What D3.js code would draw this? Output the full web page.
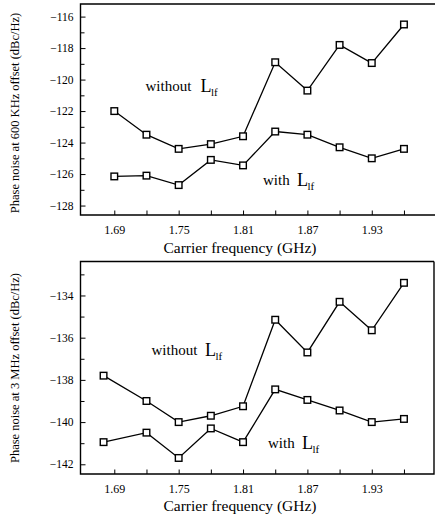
<!DOCTYPE html>
<html><head><meta charset="utf-8">
<script src="https://cdn.jsdelivr.net/npm/d3@7"></script>
<style>
body{margin:0;background:#fff}
svg{display:block}
text{font-family:"Liberation Serif","Times New Roman",serif;fill:#000}
</style>
</head><body>
<svg id="c" width="435" height="519"></svg>
<script>
// ---------- data ----------
const freqTop = [1.69, 1.72, 1.75, 1.78, 1.81, 1.84, 1.87, 1.90, 1.93, 1.96];
const freqBottom = [1.68, 1.72, 1.75, 1.78, 1.81, 1.84, 1.87, 1.90, 1.93, 1.96];
const noise600kWithout = [-122.0, -123.5, -124.4, -124.1, -123.6, -118.9, -120.7, -117.8, -118.95, -116.5];
const noise600kWith    = [-126.15, -126.1, -126.7, -125.1, -125.45, -123.3, -123.5, -124.3, -125.0, -124.4];
const noise3MWithout   = [-137.8, -139.0, -140.0, -139.7, -139.25, -135.15, -136.7, -134.3, -135.65, -133.4];
const noise3MWith      = [-140.95, -140.5, -141.7, -140.3, -140.95, -138.45, -138.95, -139.45, -140.0, -139.85];
const xTickValues = [1.69, 1.72, 1.75, 1.78, 1.81, 1.84, 1.87, 1.90, 1.93, 1.96];
const xTickLabels = ["1.69", "1.75", "1.81", "1.87", "1.93"];
const yMajorTop = [-116, -118, -120, -122, -124, -126, -128];
const yMinorTop = [-117, -119, -121, -123, -125, -127];
const yMajorBottom = [-134, -136, -138, -140, -142];
const yMinorBottom = [-133, -135, -137, -139, -141];
const xTitle = "Carrier frequency (GHz)";
const yTitleTop = "Phase noise at 600 KHz offset (dBc/Hz)";
const yTitleBottom = "Phase noise at 3 MHz offset (dBc/Hz)";

const svg = d3.select("#c");
const left = 80.5, right = 434;
const x = d3.scaleLinear().domain([1.6585, 1.988]).range([left, right]);

const panels = [
  {top: 4, bottom: 215, frameRight: 438, yDomain: [-128.6, -115.2],
   freq: freqTop, series: [noise600kWithout, noise600kWith],
   major: yMajorTop, minor: yMinorTop, ytitle: yTitleTop, ytitleY: 113,
   tickLabY: 10, titleY: 253,
   labels: [{x: 145.5, y: 91, w: "without", lx: 200.5}, {x: 263, y: 185, w: "with", lx: 297}]},
  {top: 261.5, bottom: 474, frameRight: 434, yDomain: [-142.46, -132.39],
   freq: freqBottom, series: [noise3MWithout, noise3MWith],
   major: yMajorBottom, minor: yMinorBottom, ytitle: yTitleBottom, ytitleY: 368,
   tickLabY: 10, titleY: 511,
   labels: [{x: 151.5, y: 355, w: "without", lx: 205}, {x: 268, y: 448, w: "with", lx: 302}]}
];

panels.forEach(p => {
  const y = d3.scaleLinear().domain(p.yDomain).range([p.bottom, p.top]);
  const g = svg.append("g");

  // y axis major
  const ya = g.append("g").attr("transform", `translate(${left},0)`)
    .call(d3.axisLeft(y).tickValues(p.major).tickSize(-5).tickPadding(7).tickFormat(d3.format("d")));
  ya.select(".domain").remove();
  ya.selectAll("text").style("font-size", "11.5px").style("font-family", '"Liberation Serif",serif');
  ya.selectAll("line").attr("stroke-width", 1);
  const ym = g.append("g").attr("transform", `translate(${left},0)`)
    .call(d3.axisLeft(y).tickValues(p.minor).tickSize(-4).tickFormat(""));
  ym.select(".domain").remove();
  ym.selectAll("line").attr("stroke-width", 1);

  // x axis
  const xa = g.append("g").attr("transform", `translate(0,${p.bottom})`)
    .call(d3.axisBottom(x).tickValues(xTickValues).tickSize(-4.5).tickPadding(p.tickLabY)
      .tickFormat(d => { const s = d3.format(".2f")(d); return xTickLabels.includes(s) ? s : ""; }));
  xa.select(".domain").remove();
  xa.selectAll("text").style("font-size", "12px").style("font-family", '"Liberation Serif",serif');
  xa.selectAll("line").attr("stroke-width", 1);

  // frame
  g.append("path")
    .attr("d", `M${p.frameRight},${p.top}H${left}V${p.bottom}H${p.frameRight}` + (p.frameRight < 435 ? `V${p.top}` : ""))
    .attr("fill", "none").attr("stroke", "#000").attr("stroke-width", 1.4);

  // titles
  g.append("text").attr("x", 240).attr("y", p.titleY)
    .attr("text-anchor", "middle").attr("textLength", 153).attr("lengthAdjust", "spacingAndGlyphs")
    .style("font-size", "14px").text(xTitle);
  g.append("text").attr("transform", `translate(19,${p.ytitleY}) rotate(-90)`)
    .attr("text-anchor", "middle").style("font-size", "12.5px").text(p.ytitle);

  // series
  const line = d3.line().x((d, i) => x(p.freq[i])).y(d => y(d));
  p.series.forEach(s => {
    g.append("path").datum(s).attr("d", line).attr("fill", "none")
      .attr("stroke", "#000").attr("stroke-width", 1.3);
    g.selectAll(null).data(s).enter().append("rect")
      .attr("x", (d, i) => x(p.freq[i]) - 3.3).attr("y", d => y(d) - 3.3)
      .attr("width", 6.6).attr("height", 6.6)
      .attr("fill", "#fff").attr("stroke", "#000").attr("stroke-width", 1.4);
  });

  // annotations
  p.labels.forEach(l => {
    g.append("text").attr("x", l.x).attr("y", l.y).style("font-size", "15px").text(l.w);
    g.append("text").attr("x", l.lx).attr("y", l.y + 1).style("font-size", "18px").text("L");
    g.append("text").attr("x", l.lx + 10.5).attr("y", l.y + 5).style("font-size", "11px").text("lf");
  });
});
</script>
</body></html>
